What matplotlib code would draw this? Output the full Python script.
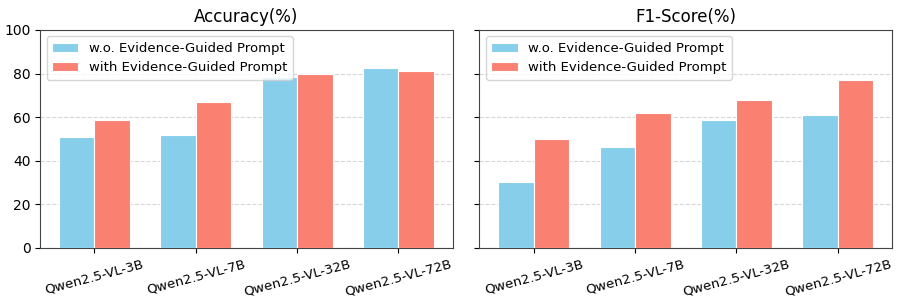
import numpy as np
import matplotlib.pyplot as plt

# ----------------------------
# Data
# ----------------------------
models = ["Qwen2.5-VL-3B", "Qwen2.5-VL-7B", "Qwen2.5-VL-32B", "Qwen2.5-VL-72B"]
acc_wo = [50.7, 51.6, 78.4, 82.5]
acc_with = [58.5, 66.8, 79.8, 81.0]
f1_wo = [30.2, 46.1, 58.8, 60.9]
f1_with = [50.1, 61.7, 68.0, 76.9]

labels = ["w.o. Evidence-Guided Prompt", "with Evidence-Guided Prompt"]
colors = ["skyblue", "salmon"]


def draw(ax, wo, wi, title):
    x = np.arange(len(models))
    w = 0.35
    ax.bar(x - w / 2, wo, width=w, color=colors[0], edgecolor="white", linewidth=0.8, label=labels[0], zorder=3)
    ax.bar(x + w / 2, wi, width=w, color=colors[1], edgecolor="white", linewidth=0.8, label=labels[1], zorder=3)
    ax.set_xticks(x)
    ax.set_xticklabels(models, rotation=15, fontsize=9.5)
    ax.set_title(title, fontsize=12)
    ax.set_ylim(0, 100)
    ax.grid(axis="y", linestyle="--", alpha=0.5, zorder=0)
    ax.legend(loc="upper left", fontsize=9.5)
    ax.tick_params(axis="y", labelsize=10)
    for s in ax.spines.values():
        s.set_color("#444444")


fig, axes = plt.subplots(1, 2, figsize=(9.13, 3.05), dpi=100, sharey=True)
draw(axes[0], acc_wo, acc_with, "Accuracy(%)")
draw(axes[1], f1_wo, f1_with, "F1-Score(%)")
axes[0].set_yticks([0, 20, 40, 60, 80, 100])
fig.subplots_adjust(left=0.044, right=0.977, top=0.902, bottom=0.187, wspace=0.065)
fig.savefig("out.png", dpi=100)
